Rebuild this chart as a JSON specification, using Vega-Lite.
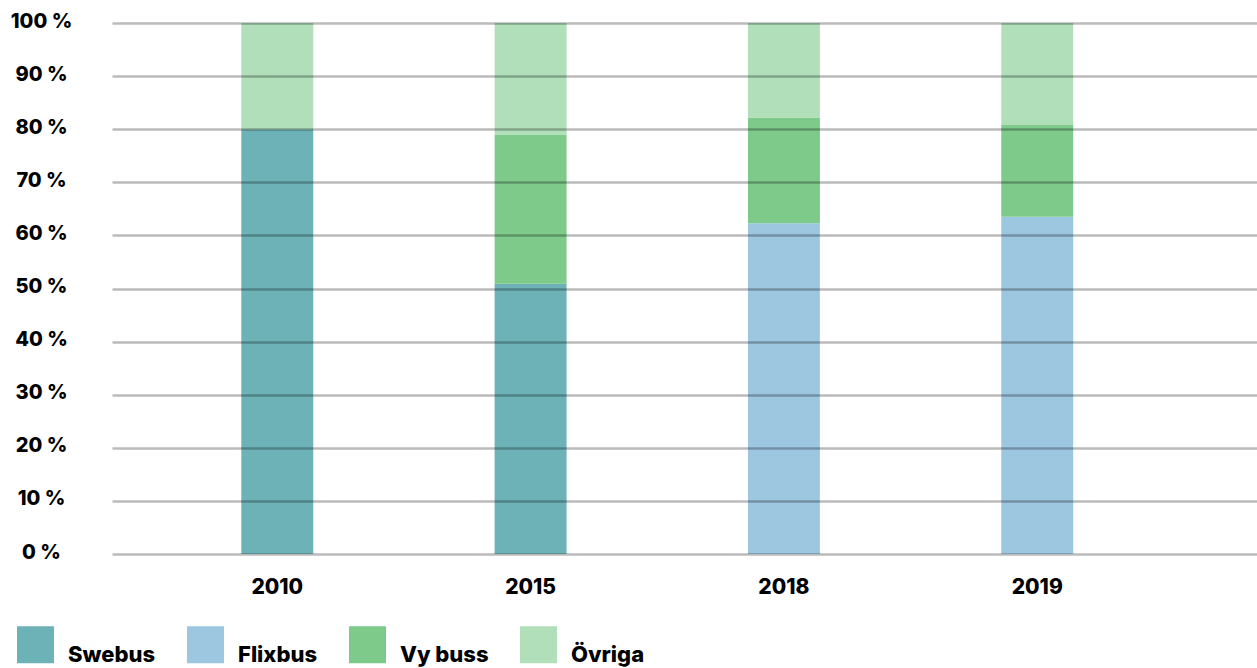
{
  "$schema": "https://vega.github.io/schema/vega-lite/v6.json",
  "width": 1145,
  "height": 531,
  "autosize": {"type": "none"},
  "padding": {"left": 112, "top": 23, "right": 0, "bottom": 114},
  "background": "white",
  "data": {
    "values": [
      {"year": "2010", "company": "Swebus", "rank": 1, "share": 80.0},
      {"year": "2010", "company": "Övriga", "rank": 4, "share": 20.0},
      {"year": "2015", "company": "Swebus", "rank": 1, "share": 50.9},
      {"year": "2015", "company": "Vy buss", "rank": 3, "share": 28.1},
      {"year": "2015", "company": "Övriga", "rank": 4, "share": 21.0},
      {"year": "2018", "company": "Flixbus", "rank": 2, "share": 62.3},
      {"year": "2018", "company": "Vy buss", "rank": 3, "share": 19.9},
      {"year": "2018", "company": "Övriga", "rank": 4, "share": 17.8},
      {"year": "2019", "company": "Flixbus", "rank": 2, "share": 63.5},
      {"year": "2019", "company": "Vy buss", "rank": 3, "share": 17.3},
      {"year": "2019", "company": "Övriga", "rank": 4, "share": 19.2}
    ]
  },
  "mark": {"type": "bar"},
  "encoding": {
    "x": {
      "field": "year",
      "type": "ordinal",
      "sort": ["2010", "2015", "2018", "2019"],
      "scale": {"paddingInner": 0.716, "paddingOuter": 0.618, "align": 0.413},
      "axis": {
        "title": null,
        "domain": false,
        "ticks": false,
        "tickSize": 0,
        "labelAngle": 0,
        "labelPadding": 22,
        "labelFont": "Inter",
        "labelFontWeight": 800,
        "labelFontSize": 21,
        "labelColor": "#000000"
      }
    },
    "y": {
      "field": "share",
      "type": "quantitative",
      "stack": "zero",
      "scale": {"domain": [0, 100], "nice": false},
      "axis": {
        "title": null,
        "values": [0, 10, 20, 30, 40, 50, 60, 70, 80, 90, 100],
        "labelExpr": "datum.value + ' %'",
        "domain": false,
        "ticks": false,
        "tickSize": 0,
        "grid": true,
        "gridColor": "#000000",
        "gridOpacity": 0.27,
        "gridWidth": 2.5,
        "zindex": 1,
        "labelAlign": "center",
        "labelBaseline": "middle",
        "labelPadding": 71,
        "labelOffset": -2,
        "labelFont": "Inter",
        "labelFontWeight": 800,
        "labelFontSize": 20,
        "labelColor": "#000000"
      }
    },
    "color": {
      "field": "company",
      "type": "nominal",
      "sort": ["Swebus", "Flixbus", "Vy buss", "Övriga"],
      "scale": {
        "domain": ["Swebus", "Flixbus", "Vy buss", "Övriga"],
        "range": ["#6cb2b7", "#9dc6e0", "#7dca8a", "#b0dfb9"]
      },
      "legend": {
        "title": null,
        "orient": "none",
        "direction": "horizontal",
        "legendX": -95,
        "legendY": 603,
        "symbolType": "square",
        "symbolSize": 1369,
        "symbolStrokeWidth": 0,
        "symbolOpacity": 1,
        "labelOffset": 14,
        "columnPadding": 31,
        "labelBaseline": "top",
        "labelFont": "Inter",
        "labelFontWeight": 800,
        "labelFontSize": 22,
        "labelColor": "#000000",
        "labelLimit": 300
      }
    },
    "order": {"field": "rank", "type": "quantitative", "sort": "ascending"}
  },
  "config": {"view": {"stroke": null}}
}
